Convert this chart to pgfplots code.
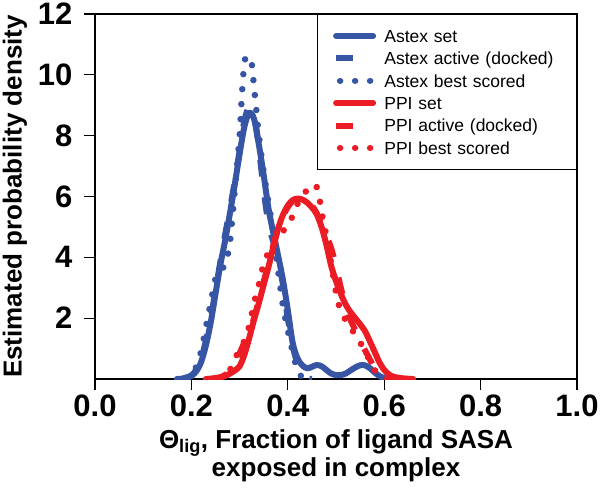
\documentclass[border=0pt]{standalone}
\usepackage{pgfplots}
\pgfplotsset{compat=1.18}
\usepackage{fontspec}
\setmainfont{Liberation Sans}
\definecolor{astex}{RGB}{55,85,165}
\definecolor{ppi}{RGB}{236,28,36}

\begin{document}
\begin{tikzpicture}
\useasboundingbox (-95pt,-114pt) rectangle (508pt,379pt);
\begin{axis}[
  at={(0pt,0pt)}, anchor=south west,
  scale only axis, width=482pt, height=365pt,
  xmin=0, xmax=1, ymin=0, ymax=12,
  xtick={0,0.2,0.4,0.6,0.8,1}, xticklabels={0.0,0.2,0.4,0.6,0.8,1.0},
  ytick={2,4,6,8,10,12}, yticklabels={2,4,6,8,10,12},
  xtick pos=left, ytick pos=left,
  tick align=outside, major tick length=11pt,
  axis line style={line width=1.3pt},
  tick style={line width=1.3pt, black},
  tick label style={font=\fontsize{31}{31}\selectfont\bfseries},
  yticklabel style={xshift=-8pt},
  xticklabel style={yshift=-1pt},
  label style={font=\fontsize{26}{28}\selectfont\bfseries},
  xlabel={Θ\textsubscript{lig}, Fraction of ligand SASA\\exposed in complex},
  xlabel style={at={(axis description cs:0.5,0)}, anchor=north, align=center, yshift=-47pt},
  ylabel={Estimated probability density},
  ylabel style={at={(axis description cs:-0.152,0.5)}, anchor=base},
  no markers,
  legend style={at={(1,1)}, anchor=north east, draw=black, line width=1.3pt, fill=white,
    font=\fontsize{17.5}{21}\selectfont, inner xsep=15pt, inner ysep=15pt, row sep=9.8pt,
    cells={anchor=west}, nodes={inner sep=0pt, text depth=0pt},
    /tikz/every odd column/.append style={column sep=8pt},
    /tikz/every even column/.append style={text width=177pt, text height=12.6pt, text depth=0pt}},
  legend image code/.code={\draw[#1] (0pt,0pt) -- (37pt,0pt);},
  solidline/.style={line width=6pt, line cap=round, line join=round, smooth},
  dashline/.style={line width=6pt, line cap=butt, line join=round, dash pattern=on 17pt off 21pt, smooth},
  dotline/.style={line width=6.5pt, line cap=round, line join=round, dash pattern=on 0.01pt off 15pt, dash phase=-4pt, smooth},
]
% Astex set
\addplot[astex, solidline] coordinates {
(0.17,0) (0.18,0.01) (0.19,0.04) (0.20,0.1) (0.21,0.25) (0.22,0.55) (0.23,1.1) (0.24,1.85)
(0.25,2.8) (0.26,3.75) (0.27,4.55) (0.28,5.45) (0.29,6.4) (0.30,7.4) (0.31,8.3) (0.32,8.75)
(0.33,8.55) (0.34,7.7) (0.35,6.7) (0.36,5.6) (0.37,4.8) (0.38,4.05) (0.39,3.25) (0.40,2.27)
(0.41,1.2) (0.42,0.68) (0.43,0.45) (0.44,0.35) (0.45,0.4) (0.46,0.46) (0.47,0.42) (0.48,0.3)
(0.49,0.18) (0.50,0.13) (0.51,0.13) (0.52,0.18) (0.53,0.28) (0.54,0.38) (0.55,0.45) (0.56,0.45)
(0.57,0.36) (0.58,0.22) (0.59,0.1) (0.60,0.03) (0.61,0)
};
\addlegendentry{Astex set}
% Astex active (docked)
\addplot[astex, dashline] coordinates {
(0.18,0) (0.19,0.05) (0.20,0.12) (0.21,0.3) (0.22,0.65) (0.23,1.25) (0.24,2.0) (0.25,2.9)
(0.26,3.85) (0.27,4.75) (0.28,5.6) (0.29,6.5) (0.30,7.5) (0.31,8.5) (0.32,8.95) (0.33,8.7)
(0.34,7.6) (0.35,6.2) (0.36,5.1) (0.37,4.5) (0.38,3.9) (0.39,3.1) (0.40,2.0) (0.41,1.1)
(0.42,0.5) (0.43,0.15) (0.44,0.03) (0.45,0)
};
\addlegendentry{Astex active (docked)}
% Astex best scored
\addplot[astex, dotline] coordinates {
(0.18,0) (0.19,0.05) (0.20,0.15) (0.21,0.4) (0.22,0.9) (0.23,1.7) (0.24,2.5) (0.25,3.3)
(0.26,3.6) (0.27,3.75) (0.28,4.5) (0.29,6.2) (0.30,8.0) (0.305,9.4) (0.31,10.4) (0.315,10.62)
(0.32,10.55) (0.325,10.4) (0.33,9.6) (0.335,8.8) (0.34,8.0) (0.35,6.8) (0.36,5.8) (0.367,5.12)
(0.37,4.8) (0.38,3.55) (0.39,2.4) (0.40,1.6) (0.41,0.9) (0.42,0.3) (0.43,0.05) (0.44,0)
};
\addlegendentry{Astex best scored}
% PPI set
\addplot[ppi, solidline] coordinates {
(0.23,0) (0.25,0.03) (0.27,0.1) (0.28,0.18) (0.29,0.28) (0.30,0.42) (0.31,0.8) (0.32,1.35)
(0.33,1.95) (0.34,2.5) (0.35,3.1) (0.36,3.69) (0.37,4.35) (0.38,4.95) (0.39,5.4) (0.40,5.7)
(0.41,5.88) (0.42,5.93) (0.43,5.9) (0.44,5.8) (0.45,5.64) (0.46,5.42) (0.47,5.0) (0.48,4.42)
(0.49,3.72) (0.50,3.22) (0.51,2.8) (0.52,2.45) (0.53,2.2) (0.54,2.0) (0.55,1.8) (0.56,1.58)
(0.57,1.25) (0.58,0.9) (0.59,0.55) (0.60,0.3) (0.61,0.15) (0.62,0.07) (0.64,0.02) (0.66,0)
};
\addlegendentry{PPI set}
% PPI active (docked)
\addplot[ppi, dashline] coordinates {
(0.24,0) (0.26,0.05) (0.28,0.25) (0.29,0.5) (0.30,0.85) (0.31,1.2) (0.32,1.55) (0.33,2.0)
(0.34,2.6) (0.35,3.2) (0.36,3.8) (0.37,4.4) (0.38,4.95) (0.39,5.35) (0.40,5.65) (0.41,5.85)
(0.42,5.95) (0.43,5.95) (0.44,5.85) (0.45,5.7) (0.46,5.45) (0.47,5.1) (0.48,4.7) (0.49,4.3)
(0.50,3.7) (0.51,3.0) (0.52,2.4) (0.53,1.95) (0.54,1.6) (0.55,1.25) (0.56,0.95) (0.57,0.65)
(0.58,0.35) (0.59,0.15) (0.60,0.05) (0.62,0)
};
\addlegendentry{PPI active (docked)}
% PPI best scored
\addplot[ppi, dotline] coordinates {
(0.25,0) (0.27,0.1) (0.28,0.3) (0.29,0.65) (0.30,1.0) (0.31,1.25) (0.32,1.75) (0.33,2.5)
(0.34,3.1) (0.35,3.8) (0.36,4.15) (0.37,4.4) (0.38,4.6) (0.39,4.85) (0.40,5.1) (0.41,5.35)
(0.42,5.75) (0.43,6.05) (0.44,6.2) (0.45,6.35) (0.458,6.38) (0.465,6.0) (0.47,5.5) (0.48,4.7)
(0.49,3.8) (0.50,2.85) (0.51,2.2) (0.52,1.95) (0.53,1.7) (0.54,1.45) (0.55,1.2) (0.56,0.95)
(0.57,0.6) (0.58,0.3) (0.59,0.12) (0.60,0.04) (0.61,0)
};
\addlegendentry{PPI best scored}
\end{axis}
\end{tikzpicture}
\end{document}
